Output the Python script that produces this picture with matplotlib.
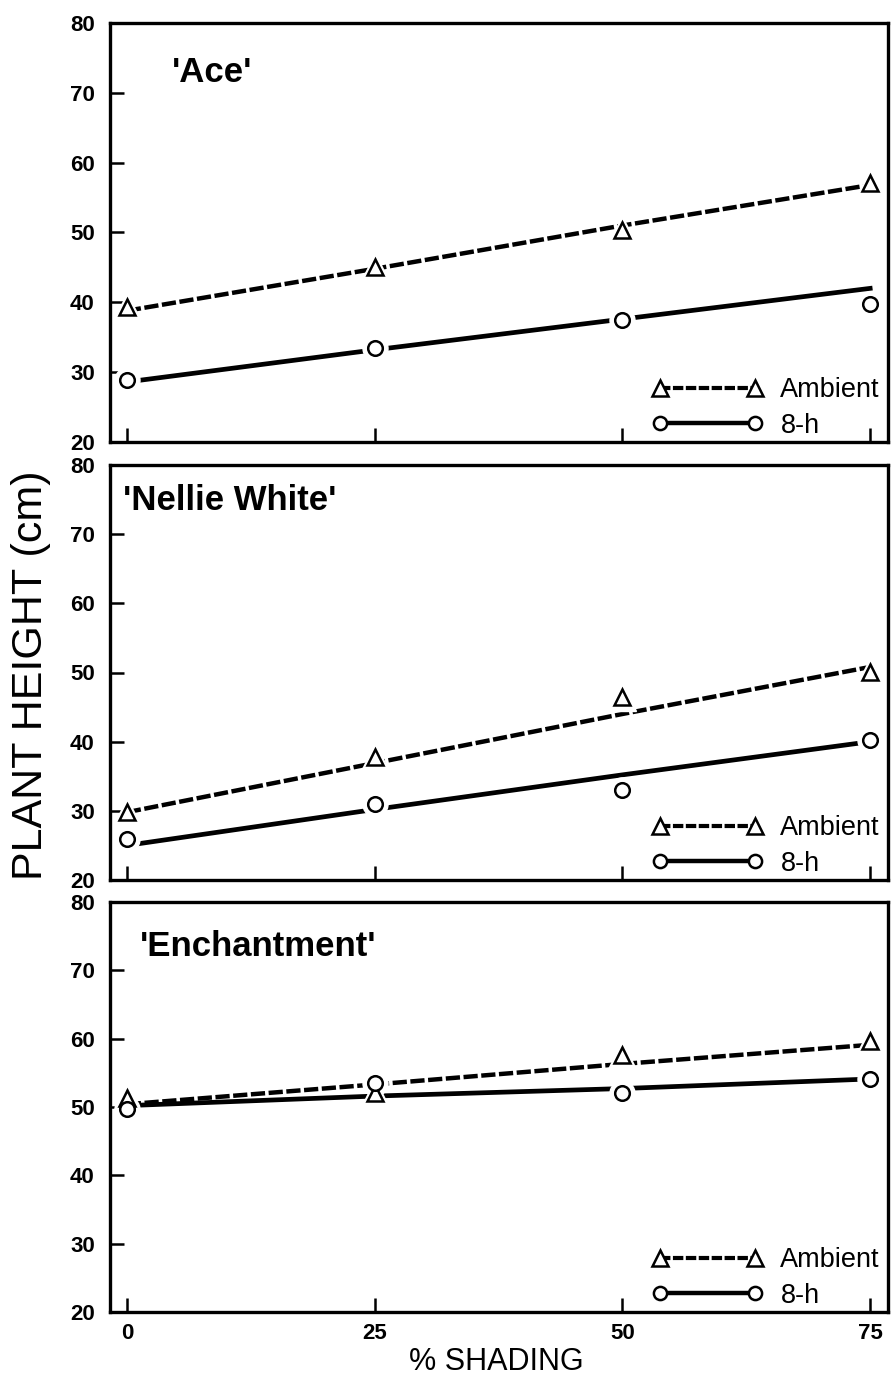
import matplotlib
matplotlib.use("Agg")
import matplotlib.pyplot as plt
from matplotlib.lines import Line2D

plt.rcParams['font.family'] = ['Liberation Sans', 'DejaVu Sans']

shading = [0, 25, 50, 75]
cultivars = ["'Ace'", "'Nellie White'", "'Enchantment'"]

# observed means
ace_ambient = [39.3, 45.1, 50.3, 57.1]
ace_8h = [28.9, 33.4, 37.5, 39.8]
nellie_ambient = [29.8, 37.8, 46.4, 50.1]
nellie_8h = [26.0, 31.0, 33.0, 40.2]
ench_ambient = [51.3, 52.0, 57.6, 59.7]
ench_8h = [49.7, 53.5, 52.1, 54.1]

# fitted (regression) lines, read at each shading level
ace_ambient_fit = [38.8, 44.8, 51.0, 56.8]
ace_8h_fit = [28.6, 33.2, 37.6, 42.0]
nellie_ambient_fit = [29.8, 36.9, 44.0, 50.8]
nellie_8h_fit = [25.0, 30.2, 35.2, 40.0]
ench_ambient_fit = [50.4, 53.3, 56.3, 59.1]
ench_8h_fit = [50.2, 51.6, 52.7, 54.1]

yticks = [20, 30, 40, 50, 60, 70, 80]

panels = [
    (ace_ambient, ace_8h, ace_ambient_fit, ace_8h_fit),
    (nellie_ambient, nellie_8h, nellie_ambient_fit, nellie_8h_fit),
    (ench_ambient, ench_8h, ench_ambient_fit, ench_8h_fit),
]

fig = plt.figure(figsize=(8.91, 13.76), dpi=100)
left = 110 / 891
right = 888 / 891
H = 1376
boxes = [(23, 442), (465, 880), (902, 1312)]
title_pos = [(172, 73), (123, 500), (140, 947)]

dash = (3.2, 0.8)
for i, ((amb, h8, ambf, h8f), (top, bot)) in enumerate(zip(panels, boxes)):
    ax = fig.add_axes([left, 1 - bot / H, right - left, (bot - top) / H])
    ax.set_xlim(-1.7, 76.8)
    ax.set_ylim(20, 80)
    # fitted lines
    ax.plot(shading, ambf, color='black', lw=3.2, ls=(0, dash), zorder=2)
    ax.plot(shading, h8f, color='black', lw=3.4, ls='-', zorder=2)
    # white halos then hollow markers
    ax.plot(shading, amb, ls='none', marker='^', ms=20, mfc='white', mec='white', zorder=3)
    ax.plot(shading, h8, ls='none', marker='o', ms=18, mfc='white', mec='white', zorder=3)
    ax.plot(shading, amb, ls='none', marker='^', ms=12, mfc='white', mec='black', mew=1.8, zorder=4)
    ax.plot(shading, h8, ls='none', marker='o', ms=10.5, mfc='white', mec='black', mew=1.8, zorder=4)

    ax.set_yticks(yticks)
    ax.set_xticks(shading)
    ax.tick_params(direction='in', length=10, width=1.8, labelsize=16, pad=11)
    for lab in ax.get_yticklabels():
        lab.set_fontweight('bold')
    if i < 2:
        ax.set_xticklabels([])
    else:
        for lab in ax.get_xticklabels():
            lab.set_fontweight('bold')
        ax.tick_params(axis='x', pad=8)
    for sp in ax.spines.values():
        sp.set_linewidth(2.4)

    tx, ty = title_pos[i]
    fig.text(tx / 891, 1 - ty / H, cultivars[i], fontsize=25, fontweight='bold',
             ha='left', va='center')

    handles = [
        Line2D([], [], color='black', lw=3, ls=(0, (2.5, 0.6)), marker='^', ms=11,
               mfc='white', mec='black', mew=1.8),
        Line2D([], [], color='black', lw=3.2, ls='-', marker='o', ms=9.5,
               mfc='white', mec='black', mew=1.8),
    ]
    ax.legend(handles, ['Ambient', '8-h'], numpoints=2, loc='lower right',
              frameon=False, fontsize=19.5, handlelength=4.1, handletextpad=0.65,
              labelspacing=0.35, borderaxespad=0.0, borderpad=0.3,
              bbox_to_anchor=(1.0, -0.012))

fig.text(31 / 891, 1 - 675 / H, 'PLANT HEIGHT (cm)', rotation=90, fontsize=31,
         ha='center', va='center')
fig.text(496 / 891, 1 - 1362 / H, '% SHADING', fontsize=22, ha='center', va='center')

fig.savefig('out.png', dpi=100)
